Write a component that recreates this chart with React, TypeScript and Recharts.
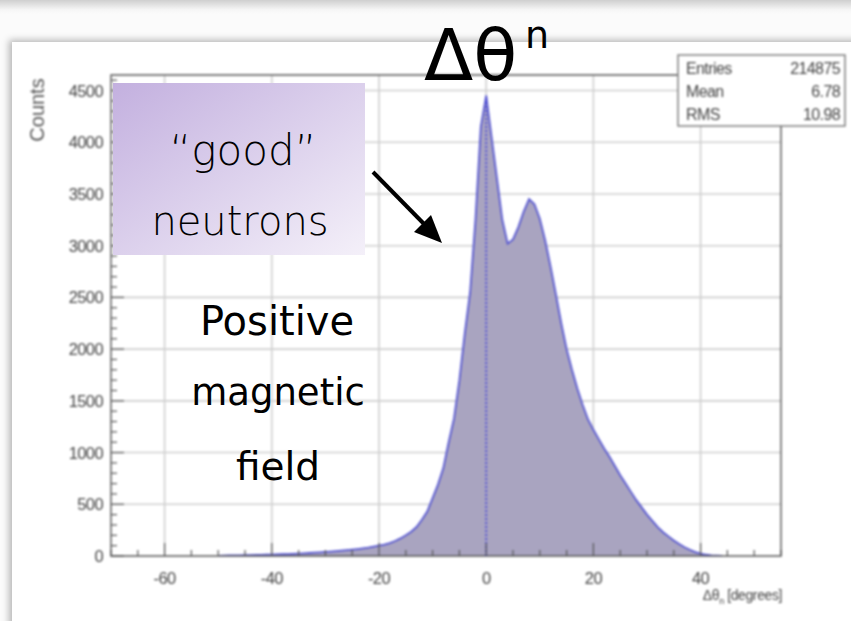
import React from "react";
import {
  ComposedChart,
  Area,
  XAxis,
  YAxis,
  CartesianGrid,
  ReferenceLine,
  ReferenceArea,
} from "recharts";

// Δθn histogram, 1 degree bins starting at -50
const BIN_LO = -50;
const BIN_WIDTH = 1;
const counts = [
  2, 4, 5, 6, 7, 8, 9, 10, 11, 12,
  14, 15, 17, 19, 21, 23, 26, 29, 32, 35,
  39, 43, 47, 51, 56, 61, 67, 74, 81, 90,
  100, 110, 125, 145, 170, 200, 235, 280, 350, 430,
  560, 690, 850, 1100, 1330, 1700, 2150, 2550, 3250, 4150,
  4450, 4050, 3650, 3250, 3020, 3060, 3180, 3330, 3450, 3400,
  3260, 3050, 2800, 2530, 2250, 2000, 1800, 1620, 1460, 1320,
  1220, 1130, 1040, 960, 870, 780, 700, 620, 540, 470,
  400, 340, 280, 230, 190, 150, 115, 85, 60, 38,
  22, 12, 6, 3, 1,
];

const xMajor = [-60, -40, -20, 0, 20, 40];
const xMinor = [-70, -65, -60, -55, -50, -45, -40, -35, -30, -25, -20, -15, -10, -5, 0, 5, 10, 15, 20, 25, 30, 35, 40, 45, 50, 55];
const yMajor = [0, 500, 1000, 1500, 2000, 2500, 3000, 3500, 4000, 4500];
const yMinor = [
  0, 100, 200, 300, 400, 500, 600, 700, 800, 900, 1000, 1100, 1200, 1300, 1400,
  1500, 1600, 1700, 1800, 1900, 2000, 2100, 2200, 2300, 2400, 2500, 2600, 2700,
  2800, 2900, 3000, 3100, 3200, 3300, 3400, 3500, 3600, 3700, 3800, 3900, 4000,
  4100, 4200, 4300, 4400, 4500, 4600,
];

const statLabels = ["Entries", "Mean", "RMS"];
const statValues = ["214875", "6.78", "10.98"];

const X_DOMAIN: [number, number] = [-70, 55];
const Y_DOMAIN: [number, number] = [0, 4650];

const data = counts.map((c, i) => ({ x: BIN_LO + i * BIN_WIDTH, y: c }));
const peak = Math.max(...counts);
const peakX = data[counts.indexOf(peak)].x;

const AXIS = "#555";
const LABEL_FONT = "'Liberation Sans', Arial, sans-serif";

const YTick = (props: any) => {
  const { x, y, payload } = props;
  const major = yMajor.includes(payload.value);
  return (
    <g>
      <line x1={x} x2={x + (major ? 13 : 6)} y1={y} y2={y} stroke={AXIS} strokeWidth={1.2} />
      {major && (
        <text x={x - 8} y={y} dy={6} textAnchor="end" fontSize={16.5} fill="#444" fontFamily={LABEL_FONT} letterSpacing={-0.6}>
          {payload.value}
        </text>
      )}
    </g>
  );
};

const XTick = (props: any) => {
  const { x, y, payload } = props;
  const major = xMajor.includes(payload.value);
  return (
    <g>
      <line x1={x} x2={x} y1={y} y2={y - (major ? 13 : 6)} stroke={AXIS} strokeWidth={1.2} />
      {major && (
        <text x={x} y={y + 28} textAnchor="middle" fontSize={16.5} fill="#444" fontFamily={LABEL_FONT} letterSpacing={-0.6}>
          {payload.value}
        </text>
      )}
    </g>
  );
};

export default function App() {
  const hand = "'DejaVu Sans', sans-serif";
  return (
    <div style={{ position: "absolute", left: 0, top: 0, width: 851, height: 621, overflow: "hidden", background: "#fbfbfb" }}>
      {/* screenshot framing */}
      <div style={{ position: "absolute", left: 0, top: 0, width: 851, height: 14, background: "linear-gradient(#cfcfcf, #f6f6f6 70%, #fbfbfb)" }} />
      <div
        style={{
          position: "absolute",
          left: 12,
          top: 42,
          width: 900,
          height: 700,
          background: "#fff",
          boxShadow: "-3px -2px 7px rgba(0,0,0,0.28)",
        }}
      />

      <div style={{ position: "absolute", left: 0, top: 0, filter: "blur(0.8px)" }}>
        <ComposedChart width={851} height={621} data={data} margin={{ top: 75, right: 70, bottom: 0, left: 0 }}>
          <CartesianGrid
            stroke="#cfcfcf"
            strokeWidth={1.6}
            horizontalValues={yMajor.slice(1)}
            verticalValues={xMajor}
          />
          <XAxis
            dataKey="x"
            type="number"
            domain={X_DOMAIN}
            ticks={xMinor}
            interval={0}
            height={65}
            tickSize={0}
            tickMargin={0}
            tickLine={false}
            axisLine={false}
            tick={<XTick />}
            allowDataOverflow
          />
          <YAxis
            type="number"
            domain={Y_DOMAIN}
            ticks={yMinor}
            interval={0}
            width={111}
            tickSize={0}
            tickMargin={0}
            tickLine={false}
            axisLine={false}
            tick={<YTick />}
            allowDataOverflow
          />
          <Area
            type="linear"
            dataKey="y"
            stroke="#5656cf"
            strokeWidth={1.8}
            fill="#a9a4c0"
            fillOpacity={1}
            isAnimationActive={false}
          />
          <ReferenceLine
            segment={[{ x: peakX, y: 0 }, { x: peakX, y: peak }]}
            stroke="#4a4ad6"
            strokeWidth={1.8}
            strokeDasharray="2 2"
          />
          <ReferenceArea x1={X_DOMAIN[0]} x2={X_DOMAIN[1]} y1={Y_DOMAIN[0]} y2={Y_DOMAIN[1]} fill="none" stroke={AXIS} strokeWidth={1.4} />
        </ComposedChart>

        <svg width={851} height={621} style={{ position: "absolute", left: 0, top: 0 }}>
          <text transform="translate(44,110) rotate(-90)" textAnchor="middle" fontSize={20} fill="#555" fontFamily={LABEL_FONT}>
            Counts
          </text>
          <text x={782} y={600} textAnchor="end" fontSize={14} fill="#444" fontFamily={LABEL_FONT} letterSpacing={-0.4}>
            Δθ<tspan fontSize={9} dy={4}>n</tspan>
            <tspan dy={-4}> [degrees]</tspan>
          </text>
          <rect x={678} y={55} width={167} height={71} fill="#fff" stroke="#777" strokeWidth={1.4} />
          {statLabels.map((l, i) => (
            <g key={l}>
              <text x={686} y={74 + i * 23} fontSize={16} fill="#444" fontFamily={LABEL_FONT} letterSpacing={-0.6}>
                {l}
              </text>
              <text x={840} y={74 + i * 23} textAnchor="end" fontSize={16} fill="#444" fontFamily={LABEL_FONT} letterSpacing={-0.6}>
                {statValues[i]}
              </text>
            </g>
          ))}
        </svg>
      </div>

      {/* annotations */}
      <svg width={851} height={621} style={{ position: "absolute", left: 0, top: 0 }}>
        <defs>
          <linearGradient id="boxFill" x1="0" y1="0" x2="1" y2="1">
            <stop offset="0%" stopColor="#c3b0df" />
            <stop offset="100%" stopColor="#f4f0f9" />
          </linearGradient>
        </defs>
        <text x={424} y={80} fontSize={72} fill="#000" fontFamily={hand}>
          Δθ
        </text>
        <text x={525} y={48} fontSize={38} fill="#000" fontFamily={hand}>
          n
        </text>
        <rect x={113} y={83} width={252} height={172} fill="url(#boxFill)" />
        <text x={243} y={165} textAnchor="middle" fontSize={42} fontWeight={200} fill="#000" fontFamily={hand}>
          “good”
        </text>
        <text x={240} y={235} textAnchor="middle" fontSize={40} fontWeight={200} fill="#000" fontFamily={hand}>
          neutrons
        </text>
        <line x1={373} y1={172} x2={428} y2={228} stroke="#000" strokeWidth={4} />
        <polygon points="442,243 414,232 431,215" fill="#000" />
        <text x={277} y={335} textAnchor="middle" fontSize={40} fontWeight={500} fill="#000" fontFamily={hand}>
          Positive
        </text>
        <text x={278} y={405} textAnchor="middle" fontSize={37} fill="#000" fontFamily={hand}>
          magnetic
        </text>
        <text x={278} y={480} textAnchor="middle" fontSize={39} fill="#000" fontFamily={hand}>
          field
        </text>
      </svg>
    </div>
  );
}
